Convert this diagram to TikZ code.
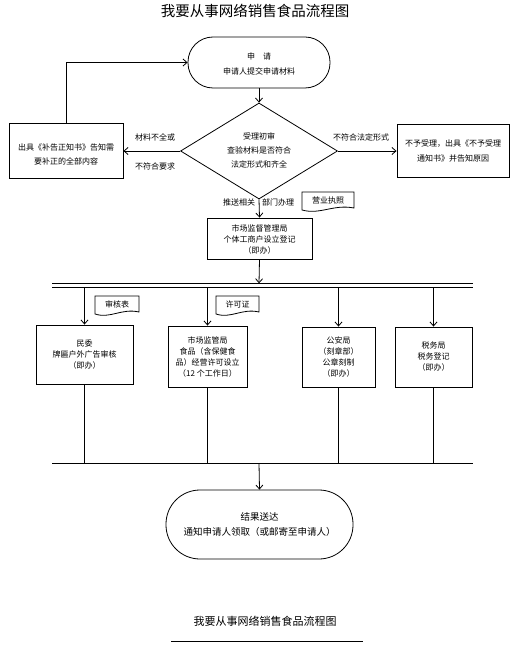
\documentclass[tikz,border=0pt]{standalone}
\usepackage{fontspec}
\setmainfont{Noto Sans CJK SC}
\usetikzlibrary{shapes.geometric,arrows.meta}
\newcommand\docbox[6]{%
  \draw[line width=0.8pt] (#2,{#5-2}) -- (#2,#3) -- (#4,#3) -- (#4,{#5-4})
    .. controls ({#4-(#4-#2)*0.4},{#5-8}) and ({#2+(#4-#2)*0.35},{#5+3}) .. (#2,{#5-2}) -- cycle;
  \node[lbl] (#1) at ({(#2+#4)/2},{(#3+#5)/2-1.5}) {#6};}
\begin{document}
\begin{tikzpicture}[x=1pt,y=-1pt,line width=0.8pt,
  arr/.style={-{Straight Barb[length=4pt,width=7pt]}},
  box/.style={draw,line width=0.9pt,inner sep=0pt},
  txt/.style={align=center,inner sep=0pt,font=\fontsize{8}{11}\selectfont},
  lbl/.style={inner sep=0pt,font=\fontsize{8}{10}\selectfont}]
\useasboundingbox (0,0) rectangle (525,647);
% title
\node[font=\fontsize{14.5}{16}\selectfont,inner sep=0pt] (title) at (255,11) {我要从事网络销售食品流程图};
% start terminal
\node[draw,rounded corners=25pt,minimum width=142pt,minimum height=51pt] (start) at (259,62.5) {};
\node[txt,font=\fontsize{8}{15}\selectfont] (starttxt) at (259,63.5) {申\hspace{8pt}请\\申请人提交申请材料};
% diamond
\node[diamond,draw,minimum width=157pt,minimum height=96pt,inner sep=0pt] (dia) at (259,151) {};
\node[txt,font=\fontsize{8}{14}\selectfont] (diatxt) at (259,150.5) {受理初审\\查验材料是否符合\\法定形式和齐全};
% left and right boxes
\node[box,minimum width=114pt,minimum height=55pt] (lb) at (66,151) {};
\node[txt,font=\fontsize{8}{14}\selectfont] (lbtxt) at (66,154) {出具《补告正知书》告知需\\要补正的全部内容};
\node[box,minimum width=112pt,minimum height=53pt] (rb) at (453,151) {};
\node[txt,font=\fontsize{8}{15}\selectfont] (rbtxt) at (453,150.5) {不予受理，出具《不予受理\\通知书》并告知原因};
% market box
\node[box,minimum width=105pt,minimum height=41pt] (mkt) at (259.5,238.5) {};
\node[txt] (mkttxt) at (259.5,239) {市场监督管理局\\个体工商户设立登记\\（即办）};
% four boxes
\node[box,minimum width=97pt,minimum height=59pt] (b1) at (84.5,354.5) {};
\node[txt] (b1txt) at (84.5,355) {民委\\牌匾户外广告审核\\（即办）};
\node[box,minimum width=79pt,minimum height=61pt] (b2) at (207.5,356.5) {};
\node[txt,font=\fontsize{8}{11}\selectfont] (b2txt) at (207.5,356.5) {市场监管局\\食品（含保健食\\品）经营许可设立\\（12 个工作日）};
\node[box,minimum width=73pt,minimum height=60pt] (b3) at (338.5,357) {};
\node[txt,font=\fontsize{8}{10.7}\selectfont] (b3txt) at (338.5,357) {公安局\\（刻章部）\\公章刻制\\（即办）};
\node[box,minimum width=77pt,minimum height=60pt] (b4) at (433.5,357) {};
\node[txt] (b4txt) at (433.5,357) {税务局\\税务登记\\（即办）};
% end terminal
\node[draw,rounded corners=34pt,minimum width=187pt,minimum height=69pt] (end) at (259.5,524.5) {};
\node[txt,font=\fontsize{9.5}{15}\selectfont] (endtxt) at (259.5,524.5) {结果送达\\通知申请人领取（或邮寄至申请人）};
% labels
\node[lbl] (l1) at (155,137) {材料不全或};
\node[lbl] (l2) at (155,166) {不符合要求};
\node[lbl] (l3) at (361,137) {不符合法定形式};
\node[lbl] (l4) at (239,202) {推送相关};
\node[lbl] (l5) at (278,202) {部门办理};
% documents
\docbox{d1}{302}{192}{354}{212}{营业执照}
\docbox{d2}{95}{296}{139}{316}{审核表}
\docbox{d3}{216}{296}{259}{316}{许可证}
% bus coordinates
\coordinate (busAL) at (52,283.3);
\coordinate (busAR) at (473,283.3);
\coordinate (busBL) at (52,287.7);
\coordinate (busBR) at (473,287.7);
\coordinate (busTop) at (259,283.3);
\coordinate (botL) at (52,463);
\coordinate (botR) at (473,463);
\coordinate (botM) at (259,463);
\draw (busAL) -- (busAR);
\draw (busBL) -- (busBR);
\draw (botL) -- (botR);
% connectors
\draw[arr] (start.south) -- (dia.north);
\draw[arr] (dia.west) -- (lb.east);
\draw[arr] (dia.east) -- (rb.west);
\draw[arr] (lb.north) |- (start.west);
\draw[arr] (dia.south) -- (mkt.north);
\draw[arr] (mkt.south) -- (busTop);
\foreach \b in {b1,b2,b3,b4}{
  \draw[arr] (\b.north |- busBL) -- (\b.north);
  \draw (\b.south) -- (\b.south |- botL);
}
\draw[arr] (botM) -- (end.north);
% footer
\node[font=\fontsize{11}{13}\selectfont,inner sep=0pt] (foot) at (265,621) {我要从事网络销售食品流程图};
\coordinate (ulL) at (171,641);
\coordinate (ulR) at (363,641);
\draw (ulL) -- (ulR);
\end{tikzpicture}
\end{document}
